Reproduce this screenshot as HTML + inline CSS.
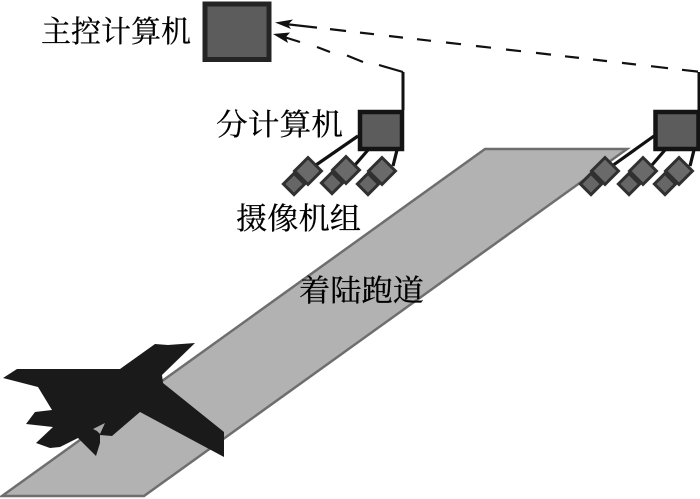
<!DOCTYPE html>
<html lang="zh">
<head>
<meta charset="utf-8">
<title>着陆跑道示意图</title>
<style>
html,body{margin:0;padding:0;background:#fff;width:700px;height:499px;overflow:hidden}
svg{display:block}
text{font-family:"Liberation Serif","Noto Serif CJK SC",serif;font-size:30px;fill:#000;stroke:#000;stroke-width:.25px}
</style>
</head>
<body>
<svg width="700" height="499" viewBox="0 0 700 499" xmlns="http://www.w3.org/2000/svg">
<defs>
<g id="cam">
<rect x="-7.500" y="-7.500" width="15" height="15" transform="translate(-14,13) rotate(45)" fill="#666" stroke="#303030" stroke-width="3"/>
<rect x="-9.500" y="-9.500" width="19" height="19" transform="rotate(45)" fill="#6a6a6a" stroke="#303030" stroke-width="3"/>
</g>
</defs>

<!-- runway -->
<polygon points="2,496 485,149 627,149 144,496" fill="#b2b2b2" stroke="#6e6e6e" stroke-width="2.500"/>

<!-- main computer -->
<rect x="205" y="4" width="64" height="55.500" fill="#5c5c5c" stroke="#242424" stroke-width="5"/>

<!-- sub computers -->
<rect x="360" y="112" width="42" height="37" fill="#5c5c5c" stroke="#141414" stroke-width="4.500"/>
<rect x="655.500" y="112" width="43" height="37" fill="#5c5c5c" stroke="#141414" stroke-width="4.500"/>

<!-- vertical risers -->
<path d="M403 72 V110" stroke="#111" stroke-width="3" fill="none"/>
<path d="M699 72 V110" stroke="#111" stroke-width="3" fill="none"/>

<!-- dashed connectors -->
<g stroke="#111" stroke-width="2.200" fill="none">
<path d="M285 24 L317 27.600"/>
<path d="M330 29.100 L346 31"/>
<path d="M360 32.600 L374 34.200"/>
<path d="M389 36 L403 37.600"/>
<path d="M417 39.200 L431 40.800"/>
<path d="M446 42.500 L461 44.200"/>
<path d="M476 46 L491 47.700"/>
<path d="M506 49.500 L521 51.200"/>
<path d="M536 52.900 L551 54.600"/>
<path d="M565 56.300 L579 57.900"/>
<path d="M593 59.500 L607 61.100"/>
<path d="M622 62.900 L636 64.500"/>
<path d="M651 66.200 L668 68.200"/>
<path d="M682 69.800 L698 71.600"/>
<path d="M284 37 L300 42"/>
<path d="M317 47 L330 52"/>
<path d="M347 55.500 L363 62"/>
<path d="M379 65 L403 72"/>
</g>
<polygon points="275,22.500 293,19.500 288,24.500 291,29" fill="#111"/>
<polygon points="273,34 290,32.500 286,37 288,43" fill="#111"/>

<!-- camera cables -->
<g stroke="#111" stroke-width="3.200" fill="none">
<path d="M358 136 L316 165"/>
<path d="M368 150 L355 165"/>
<path d="M397 150 L393 166"/>
<path d="M654 136 L612 166"/>
<path d="M665 150 L652 165"/>
<path d="M694 150 L690 166"/>
</g>

<!-- cameras -->
<use href="#cam" x="308" y="171"/>
<use href="#cam" x="346" y="170"/>
<use href="#cam" x="382" y="171"/>
<use href="#cam" x="605" y="171"/>
<use href="#cam" x="643" y="171"/>
<use href="#cam" x="679" y="171"/>

<!-- aircraft -->
<polygon fill="#1a1a1a" points="3,378 17,369 120,369 155,344 168,345 195,343 162,375 163,383 224,432 224,457 140,412 112,436 100,435 100,443 96,456 78,438 60,447 50,448 36,443 53,427 26,424 35,412 52,410 38,387"/>
<polygon fill="#a8a8a8" points="93,429 105,423 100,434 97,431"/>

<!-- labels -->
<text x="41" y="42" textLength="150" lengthAdjust="spacingAndGlyphs">主控计算机</text>
<text x="216" y="135" textLength="127" lengthAdjust="spacingAndGlyphs">分计算机</text>
<text x="236" y="229" textLength="125" lengthAdjust="spacingAndGlyphs">摄像机组</text>
<text x="299" y="301" textLength="125" lengthAdjust="spacingAndGlyphs">着陆跑道</text>
</svg>
</body>
</html>
